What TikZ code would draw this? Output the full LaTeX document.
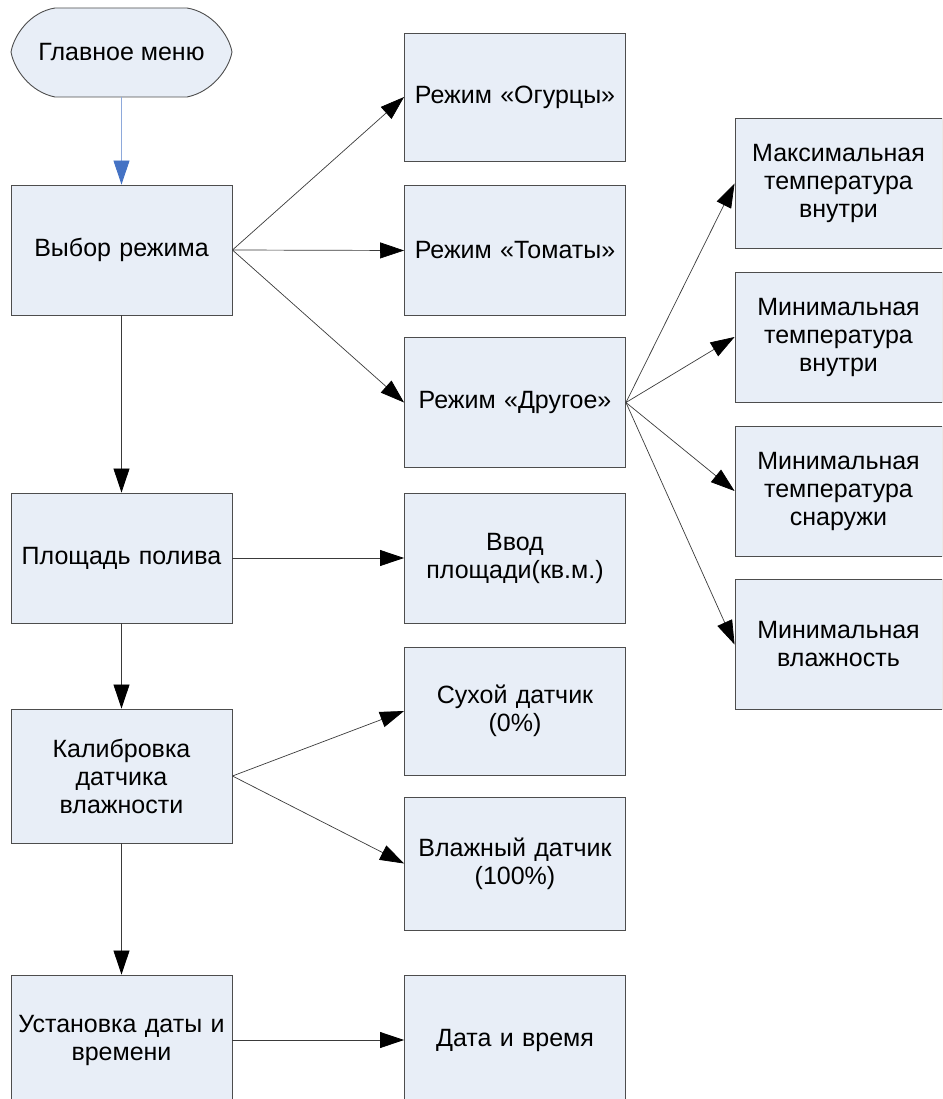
\documentclass[tikz,border=0pt]{standalone}
\usepackage{fontspec}
\setmainfont{Liberation Sans}
\usepackage{tikz}
\usetikzlibrary{arrows}
\usetikzlibrary{arrows.meta}
\definecolor{bfill}{HTML}{E8EEF7}
\definecolor{bline}{HTML}{4D4D4D}
\definecolor{aline}{HTML}{3A3A3A}
\definecolor{sline}{HTML}{8EA9DB}
\definecolor{shead}{HTML}{4472C4}

\begin{document}
\begin{tikzpicture}[x=1pt,y=-1pt,
  blk/.style={draw=bline,fill=bfill,line width=0.9pt,inner sep=0pt,minimum width=221pt,minimum height=130pt,text width=214pt,align=center,font=\fontsize{25}{28}\selectfont},
  rblk/.style={blk,minimum width=207pt,text width=200pt},
  go/.style={draw=aline,line width=0.7pt,-{Triangle[length=24pt,width=16pt,color=black]}},
  startgo/.style={draw=sline,line width=0.9pt,-{Triangle[length=24pt,width=16pt,color=shead]}}]

\useasboundingbox (0,0) rectangle (942,1099);
\clip (0,0) rectangle (942,1099);

% start
\draw[draw=bline,fill=bfill,line width=0.9pt] (55,8) -- (187,8) .. controls (212,12) and (229,35) .. (232,52) .. controls (229,69) and (212,92) .. (187,97) -- (55,97) .. controls (30,92) and (14,69) .. (11,52) .. controls (14,35) and (30,12) .. (55,8) -- cycle;
\node[inner sep=0pt,minimum width=221pt,minimum height=89pt,font=\fontsize{25}{28}\selectfont] (start) at (121.5,52.5) {Главное меню};

% left column
\node[blk] (mode) at (121.5,250) {Выбор режима};
\node[blk] (area) at (121.5,558) {Площадь полива};
\node[blk,minimum height=134pt] (calib) at (121.5,776) {Калибровка\\датчика\\влажности};
\node[blk] (setclock) at (121.5,1040) {Установка даты и\\времени};

% middle column
\node[blk,minimum height=128pt] (cucumber) at (515,97) {Режим «Огурцы»};
\node[blk] (tomato) at (515,250.5) {Режим «Томаты»};
\node[blk] (other) at (515,402.5) {Режим «Другое»};
\node[blk] (areain) at (515,558) {Ввод\\площади(кв.м.)};
\node[blk,minimum height=128pt] (dry) at (515,711) {Сухой датчик\\(0\%)};
\node[blk,minimum height=133pt] (wet) at (515,863.5) {Влажный датчик\\(100\%)};
\node[blk] (datetime) at (515,1040) {Дата и время};

% right column
\node[rblk] (tmaxin) at (838.5,183.5) {Максимальная\\температура\\внутри};
\node[rblk] (tminin) at (838.5,337) {Минимальная\\температура\\внутри};
\node[rblk] (tminout) at (838.5,491) {Минимальная\\температура\\снаружи};
\node[rblk] (hummin) at (838.5,644.5) {Минимальная\\влажность};

\draw[startgo] (start.south) -- (mode.north);
\draw[go] (mode.south) -- (area.north);
\draw[go] (area.south) -- (calib.north);
\draw[go] (calib.south) -- (setclock.north);

\draw[go] (mode.east) -- (cucumber.west);
\draw[go] (mode.east) -- (tomato.west);
\draw[go] (mode.east) -- (other.west);
\draw[go] (area.east) -- (areain.west);
\draw[go] (calib.east) -- (dry.west);
\draw[go] (calib.east) -- (wet.west);
\draw[go] (setclock.east) -- (datetime.west);

\draw[go] (other.east) -- (tmaxin.west);
\draw[go] (other.east) -- (tminin.west);
\draw[go] (other.east) -- (tminout.west);
\draw[go] (other.east) -- (hummin.west);

\end{tikzpicture}
\end{document}
